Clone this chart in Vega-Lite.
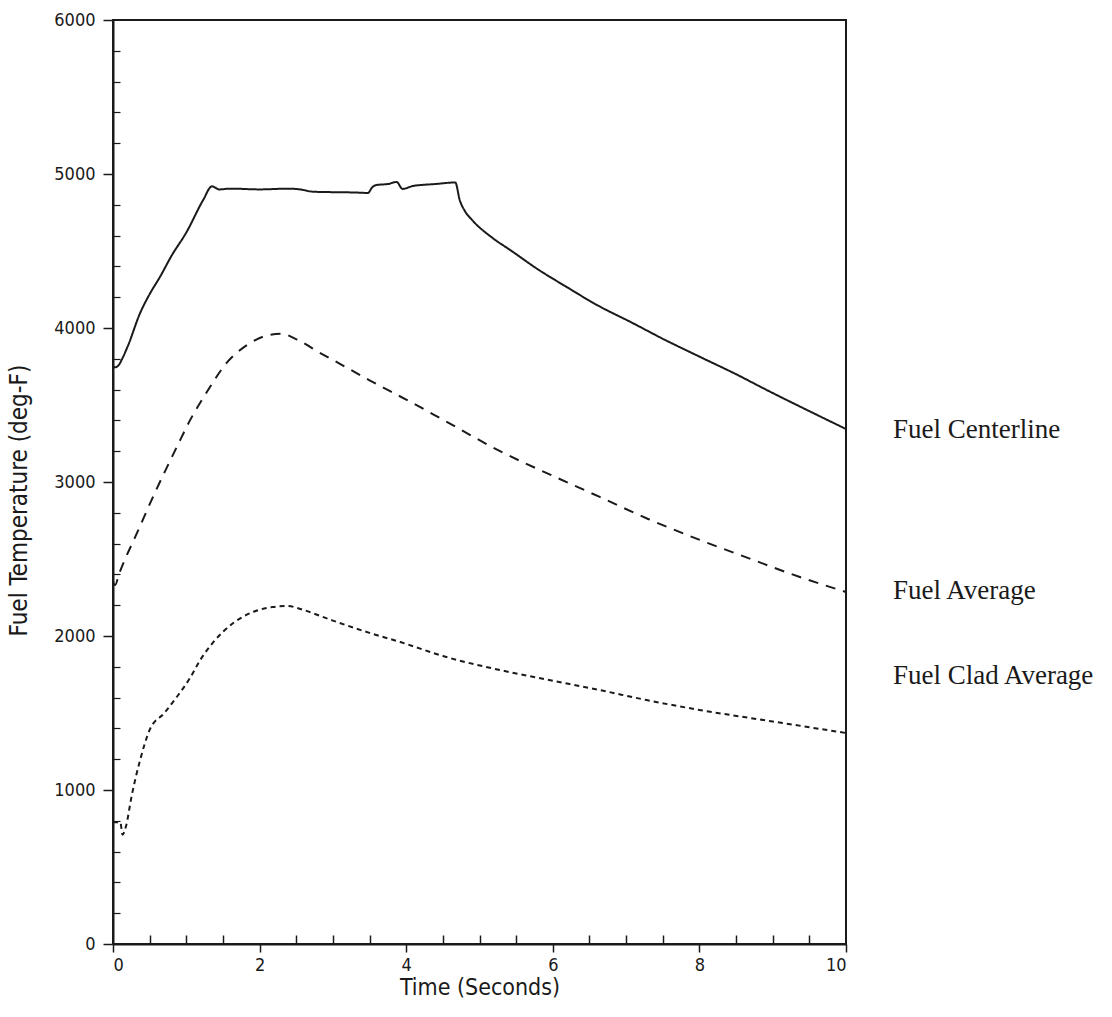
{
  "$schema": "https://vega.github.io/schema/vega-lite/v6.json",
  "width": 733,
  "height": 924,
  "autosize": {"type": "none"},
  "padding": {"left": 113, "top": 20, "right": 266, "bottom": 73},
  "background": "white",
  "config": {
    "view": {"stroke": "#1a1a1a", "strokeWidth": 2},
    "axis": {
      "labelFont": "DejaVu Sans Condensed, Liberation Sans, sans-serif",
      "titleFont": "DejaVu Sans Condensed, Liberation Sans, sans-serif",
      "labelColor": "#1a1a1a",
      "titleColor": "#1a1a1a",
      "tickColor": "#1a1a1a",
      "domainColor": "#1a1a1a",
      "titleFontWeight": "normal",
      "grid": false
    }
  },
  "datasets": {
    "curves": [
      {"t": 0, "v": 3750, "s": "Fuel Centerline"},
      {"t": 0.03, "v": 3745, "s": "Fuel Centerline"},
      {"t": 0.08, "v": 3760, "s": "Fuel Centerline"},
      {"t": 0.12, "v": 3795, "s": "Fuel Centerline"},
      {"t": 0.2, "v": 3880, "s": "Fuel Centerline"},
      {"t": 0.37, "v": 4097, "s": "Fuel Centerline"},
      {"t": 0.5, "v": 4220, "s": "Fuel Centerline"},
      {"t": 0.64, "v": 4331, "s": "Fuel Centerline"},
      {"t": 0.8, "v": 4470, "s": "Fuel Centerline"},
      {"t": 1.0, "v": 4620, "s": "Fuel Centerline"},
      {"t": 1.23, "v": 4831, "s": "Fuel Centerline"},
      {"t": 1.35, "v": 4920, "s": "Fuel Centerline"},
      {"t": 1.45, "v": 4900, "s": "Fuel Centerline"},
      {"t": 1.6, "v": 4905, "s": "Fuel Centerline"},
      {"t": 2.0, "v": 4900, "s": "Fuel Centerline"},
      {"t": 2.4, "v": 4905, "s": "Fuel Centerline"},
      {"t": 2.55, "v": 4900, "s": "Fuel Centerline"},
      {"t": 2.73, "v": 4885, "s": "Fuel Centerline"},
      {"t": 3.0, "v": 4882, "s": "Fuel Centerline"},
      {"t": 3.3, "v": 4880, "s": "Fuel Centerline"},
      {"t": 3.48, "v": 4877, "s": "Fuel Centerline"},
      {"t": 3.53, "v": 4910, "s": "Fuel Centerline"},
      {"t": 3.6, "v": 4929, "s": "Fuel Centerline"},
      {"t": 3.75, "v": 4935, "s": "Fuel Centerline"},
      {"t": 3.87, "v": 4948, "s": "Fuel Centerline"},
      {"t": 3.95, "v": 4903, "s": "Fuel Centerline"},
      {"t": 4.09, "v": 4922, "s": "Fuel Centerline"},
      {"t": 4.4, "v": 4935, "s": "Fuel Centerline"},
      {"t": 4.67, "v": 4945, "s": "Fuel Centerline"},
      {"t": 4.73, "v": 4831, "s": "Fuel Centerline"},
      {"t": 4.8, "v": 4760, "s": "Fuel Centerline"},
      {"t": 4.9, "v": 4701, "s": "Fuel Centerline"},
      {"t": 5.18, "v": 4584, "s": "Fuel Centerline"},
      {"t": 5.42, "v": 4506, "s": "Fuel Centerline"},
      {"t": 5.8, "v": 4380, "s": "Fuel Centerline"},
      {"t": 6.19, "v": 4266, "s": "Fuel Centerline"},
      {"t": 6.6, "v": 4150, "s": "Fuel Centerline"},
      {"t": 7.09, "v": 4032, "s": "Fuel Centerline"},
      {"t": 7.5, "v": 3930, "s": "Fuel Centerline"},
      {"t": 8.01, "v": 3812, "s": "Fuel Centerline"},
      {"t": 8.5, "v": 3700, "s": "Fuel Centerline"},
      {"t": 8.92, "v": 3597, "s": "Fuel Centerline"},
      {"t": 9.5, "v": 3460, "s": "Fuel Centerline"},
      {"t": 10, "v": 3344, "s": "Fuel Centerline"},
      {"t": 0, "v": 2350, "s": "Fuel Average"},
      {"t": 0.03, "v": 2331, "s": "Fuel Average"},
      {"t": 0.08, "v": 2400, "s": "Fuel Average"},
      {"t": 0.16, "v": 2494, "s": "Fuel Average"},
      {"t": 0.3, "v": 2640, "s": "Fuel Average"},
      {"t": 0.57, "v": 2929, "s": "Fuel Average"},
      {"t": 0.87, "v": 3227, "s": "Fuel Average"},
      {"t": 1.05, "v": 3400, "s": "Fuel Average"},
      {"t": 1.28, "v": 3584, "s": "Fuel Average"},
      {"t": 1.55, "v": 3773, "s": "Fuel Average"},
      {"t": 1.83, "v": 3890, "s": "Fuel Average"},
      {"t": 2.14, "v": 3955, "s": "Fuel Average"},
      {"t": 2.3, "v": 3962, "s": "Fuel Average"},
      {"t": 2.51, "v": 3925, "s": "Fuel Average"},
      {"t": 2.8, "v": 3845, "s": "Fuel Average"},
      {"t": 3.2, "v": 3740, "s": "Fuel Average"},
      {"t": 3.5, "v": 3660, "s": "Fuel Average"},
      {"t": 3.78, "v": 3590, "s": "Fuel Average"},
      {"t": 4.0, "v": 3535, "s": "Fuel Average"},
      {"t": 4.5, "v": 3405, "s": "Fuel Average"},
      {"t": 5.28, "v": 3200, "s": "Fuel Average"},
      {"t": 6.0, "v": 3040, "s": "Fuel Average"},
      {"t": 6.64, "v": 2903, "s": "Fuel Average"},
      {"t": 7.3, "v": 2760, "s": "Fuel Average"},
      {"t": 8.01, "v": 2623, "s": "Fuel Average"},
      {"t": 8.7, "v": 2500, "s": "Fuel Average"},
      {"t": 9.37, "v": 2383, "s": "Fuel Average"},
      {"t": 10, "v": 2286, "s": "Fuel Average"},
      {"t": 0, "v": 790, "s": "Fuel Clad Average"},
      {"t": 0.1, "v": 790, "s": "Fuel Clad Average"},
      {"t": 0.13, "v": 710, "s": "Fuel Clad Average"},
      {"t": 0.18, "v": 770, "s": "Fuel Clad Average"},
      {"t": 0.25, "v": 950, "s": "Fuel Clad Average"},
      {"t": 0.37, "v": 1195, "s": "Fuel Clad Average"},
      {"t": 0.5, "v": 1390, "s": "Fuel Clad Average"},
      {"t": 0.7, "v": 1500, "s": "Fuel Clad Average"},
      {"t": 0.87, "v": 1604, "s": "Fuel Clad Average"},
      {"t": 1.05, "v": 1727, "s": "Fuel Clad Average"},
      {"t": 1.19, "v": 1844, "s": "Fuel Clad Average"},
      {"t": 1.36, "v": 1955, "s": "Fuel Clad Average"},
      {"t": 1.64, "v": 2084, "s": "Fuel Clad Average"},
      {"t": 1.91, "v": 2156, "s": "Fuel Clad Average"},
      {"t": 2.18, "v": 2188, "s": "Fuel Clad Average"},
      {"t": 2.4, "v": 2195, "s": "Fuel Clad Average"},
      {"t": 2.51, "v": 2182, "s": "Fuel Clad Average"},
      {"t": 3.0, "v": 2100, "s": "Fuel Clad Average"},
      {"t": 3.5, "v": 2020, "s": "Fuel Clad Average"},
      {"t": 3.92, "v": 1961, "s": "Fuel Clad Average"},
      {"t": 4.5, "v": 1870, "s": "Fuel Clad Average"},
      {"t": 5.28, "v": 1779, "s": "Fuel Clad Average"},
      {"t": 6.0, "v": 1710, "s": "Fuel Clad Average"},
      {"t": 6.64, "v": 1649, "s": "Fuel Clad Average"},
      {"t": 7.28, "v": 1584, "s": "Fuel Clad Average"},
      {"t": 8.0, "v": 1520, "s": "Fuel Clad Average"},
      {"t": 9.0, "v": 1445, "s": "Fuel Clad Average"},
      {"t": 10, "v": 1370, "s": "Fuel Clad Average"}
    ],
    "labels": [
      {"t": 10.64, "v": 3338, "label": "Fuel Centerline"},
      {"t": 10.64, "v": 2292, "label": "Fuel Average"},
      {"t": 10.64, "v": 1740, "label": "Fuel Clad Average"}
    ]
  },
  "layer": [
    {
      "data": {"name": "curves"},
      "mark": {"type": "line", "strokeWidth": 2, "color": "#1a1a1a", "clip": true, "interpolate": "monotone"},
      "encoding": {
        "x": {
          "field": "t", "type": "quantitative",
          "scale": {"domain": [0, 10], "nice": false, "zero": false},
          "axis": {
            "values": [0, 2, 4, 6, 8, 10], "format": "d",
            "tickSize": 8, "tickWidth": 1.5, "domainWidth": 2,
            "labelFontSize": 18, "labelPadding": 4,
            "title": "Time (Seconds)", "titleFontSize": 23, "titlePadding": 2
          }
        },
        "y": {
          "field": "v", "type": "quantitative",
          "scale": {"domain": [0, 6000], "nice": false},
          "axis": {
            "values": [0, 1000, 2000, 3000, 4000, 5000, 6000], "format": "d",
            "tickSize": 10, "tickWidth": 1.5, "domainWidth": 2,
            "labelFontSize": 18, "labelPadding": 8,
            "title": "Fuel Temperature (deg-F)", "titleFontSize": 24,
            "titleX": -82, "titleY": 480
          }
        },
        "detail": {"field": "s"},
        "strokeDash": {
          "field": "s", "type": "nominal",
          "scale": {
            "domain": ["Fuel Centerline", "Fuel Average", "Fuel Clad Average"],
            "range": [[1, 0], [10, 8], [5, 4]]
          },
          "legend": null
        }
      }
    },
    {
      "data": {"name": "curves"},
      "mark": {"type": "point", "opacity": 0},
      "encoding": {
        "x": {
          "field": "t", "type": "quantitative",
          "axis": {
            "orient": "bottom",
            "values": [0.5, 1, 1.5, 2.5, 3, 3.5, 4.5, 5, 5.5, 6.5, 7, 7.5, 8.5, 9, 9.5],
            "tickSize": -9, "tickWidth": 1.5, "domain": false, "labels": false, "title": null
          }
        },
        "y": {
          "field": "v", "type": "quantitative",
          "axis": {
            "orient": "left",
            "values": [200, 400, 600, 800, 1200, 1400, 1600, 1800, 2200, 2400, 2600, 2800, 3200, 3400, 3600, 3800, 4200, 4400, 4600, 4800, 5200, 5400, 5600, 5800],
            "tickSize": -7, "tickWidth": 1.2, "domain": false, "labels": false, "title": null
          }
        }
      }
    },
    {
      "data": {"name": "labels"},
      "mark": {"type": "text", "font": "Liberation Serif", "fontSize": 27, "align": "left", "baseline": "middle", "color": "#1a1a1a"},
      "encoding": {
        "x": {"field": "t", "type": "quantitative", "axis": null},
        "y": {"field": "v", "type": "quantitative", "axis": null},
        "text": {"field": "label"}
      }
    }
  ],
  "resolve": {"axis": {"x": "independent", "y": "independent"}}
}
